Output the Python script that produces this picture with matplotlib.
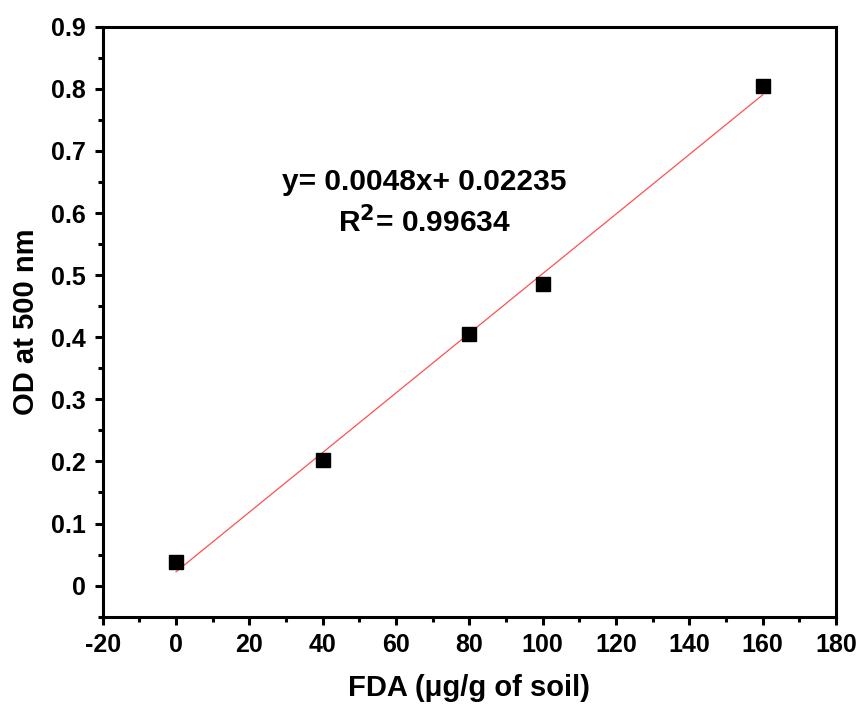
import matplotlib
matplotlib.use("Agg")
import matplotlib.pyplot as plt
import numpy as np
from matplotlib.ticker import MultipleLocator, FuncFormatter

plt.rcParams['font.family'] = ['Liberation Sans', 'DejaVu Sans']
plt.rcParams['font.weight'] = 'bold'
plt.rcParams['axes.unicode_minus'] = False
plt.rcParams['mathtext.default'] = 'bf'

fda = [0, 40, 80, 100, 160]
od = [0.038, 0.202, 0.405, 0.486, 0.805]
slope = 0.0048
intercept = 0.02235
r2 = 0.99634

fig = plt.figure(figsize=(8.61, 7.16), dpi=100)
ax = fig.add_axes([0.1193, 0.1387, 0.9710 - 0.1193, 0.9627 - 0.1387])

xf = np.array([min(fda), max(fda)])
ax.plot(xf, slope * xf + intercept, color='#ff5050', lw=0.9, zorder=2)
ax.plot(fda, od, 's', color='black', ms=9.5, zorder=3)

ax.set_xlim(-20, 180)
ax.set_ylim(-0.05, 0.9)
ax.xaxis.set_major_locator(MultipleLocator(20))
ax.xaxis.set_minor_locator(MultipleLocator(10))
ax.yaxis.set_major_locator(MultipleLocator(0.1))
ax.yaxis.set_minor_locator(MultipleLocator(0.05))
ax.xaxis.set_major_formatter(FuncFormatter(lambda v, p: f"{v:g}"))
ax.yaxis.set_major_formatter(FuncFormatter(lambda v, p: f"{v:.1f}" if abs(v) > 1e-9 else "0"))

for s in ax.spines.values():
    s.set_linewidth(2.2)
ax.tick_params(which='major', direction='out', length=6, width=2.2, labelsize=18, pad=6,
               top=False, right=False)
ax.tick_params(which='minor', direction='out', length=3.5, width=2.2, top=False, right=False)

ax.set_xlabel("FDA (μg/g of soil)", fontsize=21, fontweight='bold', labelpad=12)
ax.set_ylabel("OD at 500 nm", fontsize=21, fontweight='bold', labelpad=8)

ax.text(67.6, 0.65, f"y= {slope}x+ {intercept}",
        fontsize=21.5, fontweight='bold', ha='center', va='center')
ax.text(67.8, 0.586, f"R$^2$= {r2}", fontsize=21.5, fontweight='bold',
        ha='center', va='center')

fig.savefig("out.png", dpi=100)
